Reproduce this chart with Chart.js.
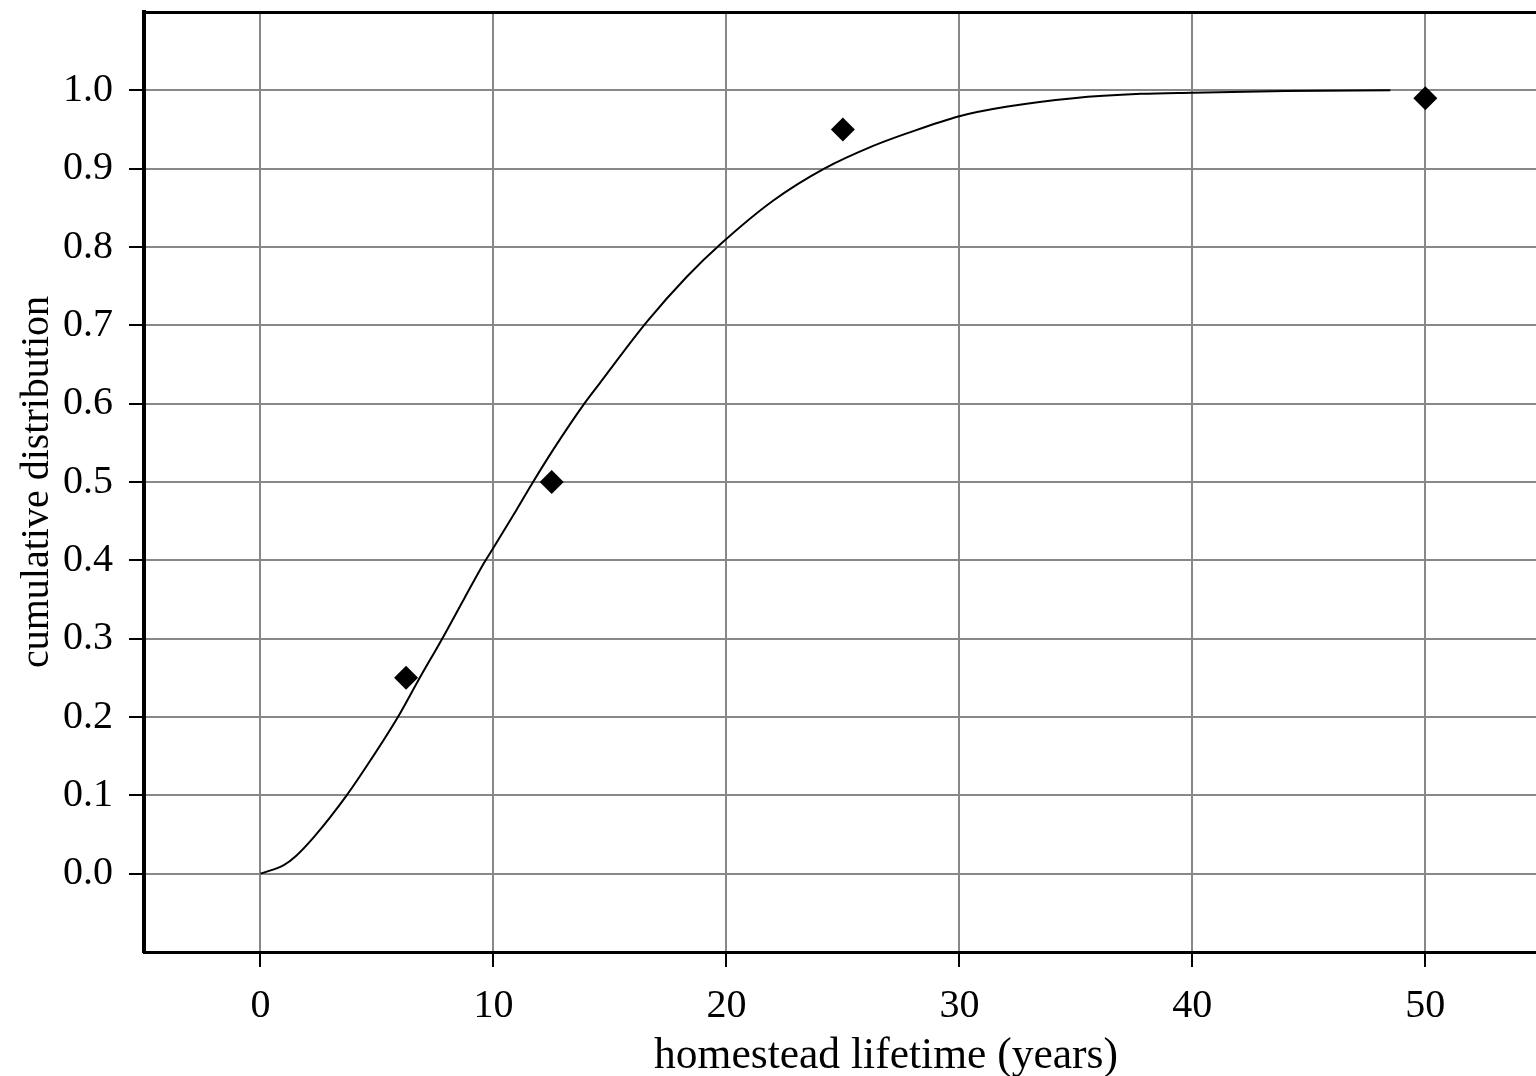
<!DOCTYPE html>
<html>
<head>
<meta charset="utf-8">
<script src="https://cdn.jsdelivr.net/npm/chart.js@4"></script>
<style>
  html, body { margin: 0; padding: 0; background: #fff; overflow: hidden; }
  #wrap { width: 1640px; height: 1076px; }
</style>
</head>
<body>
<div id="wrap"><canvas id="cdfChart" width="1640" height="1076"></canvas></div>
<script>
// fitted curve
const curveX = [0, 1.0, 1.5, 2.3, 3.7, 4.75, 5.9, 6.76, 7.8, 8.76, 9.6, 10, 11, 11.7, 12.56, 13.9, 14.56, 16.6, 18.3, 19.8, 22.0, 24.2, 26.3, 27.74, 30, 32, 34.9, 37.8, 40, 44, 48.5];
const curveY = [0, 0.011, 0.022, 0.047, 0.1, 0.146, 0.2, 0.246, 0.3, 0.352, 0.397, 0.416, 0.465, 0.5, 0.541, 0.6, 0.626, 0.705, 0.762, 0.805, 0.859, 0.9, 0.929, 0.945, 0.967, 0.979, 0.99, 0.9955, 0.997, 0.999, 1.0];

// observed points (diamonds)
const pointX = [6.25, 12.5, 25, 50];
const pointY = [0.25, 0.5, 0.95, 0.99];

// tick labels
const xTicks = [0, 10, 20, 30, 40, 50];
const yTicks = [0, 0.1, 0.2, 0.3, 0.4, 0.5, 0.6, 0.7, 0.8, 0.9, 1.0];

document.addEventListener("DOMContentLoaded", () => {
  const ctx = document.getElementById('cdfChart').getContext('2d');
  const serif = 'Liberation Serif';

  new Chart(ctx, {
    type: 'scatter',
    data: {
      datasets: [
        {
          label: 'fit',
          data: curveX.map((x, i) => ({ x: x, y: curveY[i] })),
          showLine: true,
          borderColor: '#000',
          borderWidth: 2,
          pointRadius: 0,
          cubicInterpolationMode: 'monotone'
        },
        {
          label: 'data',
          data: pointX.map((x, i) => ({ x: x, y: pointY[i] })),
          pointStyle: 'rectRot',
          pointRadius: 12,
          backgroundColor: '#000',
          borderColor: '#000',
          borderWidth: 0
        }
      ]
    },
    options: {
      responsive: false,
      animation: false,
      layout: { padding: { top: 11, left: 0, right: 5, bottom: 0 } },
      plugins: {
        legend: { display: false },
        tooltip: { enabled: false }
      },
      scales: {
        x: {
          type: 'linear',
          min: -5,
          max: 58.7,
          afterBuildTicks: axis => { axis.ticks = xTicks.map(v => ({ value: v })); },
          afterFit: axis => {
            axis.height = 124;
            axis.paddingLeft = 0;
            axis.paddingRight = 0;
          },
          grid: { color: '#888', lineWidth: 2, tickColor: '#000', tickLength: 15, tickWidth: 2 },
          border: { color: '#000', width: 3 },
          ticks: { color: '#000', font: { family: serif, size: 40 }, padding: 15, maxRotation: 0 },
          title: {
            display: true,
            text: 'homestead lifetime (years)',
            color: '#000',
            font: { family: serif, size: 43.5, lineHeight: 0.87 },
            padding: { top: 0, bottom: 0 }
          }
        },
        xTop: {
          type: 'linear',
          position: 'top',
          min: -5,
          max: 58.7,
          afterFit: axis => { axis.height = 0; },
          grid: { display: false, drawTicks: false },
          border: { color: '#000', width: 3 },
          ticks: { display: false }
        },
        y: {
          type: 'linear',
          min: -0.1,
          max: 1.1,
          afterBuildTicks: axis => { axis.ticks = yTicks.map(v => ({ value: v })); },
          afterFit: axis => {
            axis.width = 144;
            axis.paddingTop = 0;
            axis.paddingBottom = 0;
          },
          grid: { color: '#888', lineWidth: 2, tickColor: '#000', tickLength: 15, tickWidth: 2 },
          border: { color: '#000', width: 4 },
          ticks: {
            color: '#000',
            font: { family: serif, size: 40 },
            padding: 16,
            callback: v => v.toFixed(1)
          },
          title: {
            display: true,
            text: 'cumulative distribution',
            color: '#000',
            font: { family: serif, size: 40, lineHeight: 1.0 },
            padding: { top: 17, bottom: 0 }
          }
        }
      }
    }
  });
});
</script>
</body>
</html>
